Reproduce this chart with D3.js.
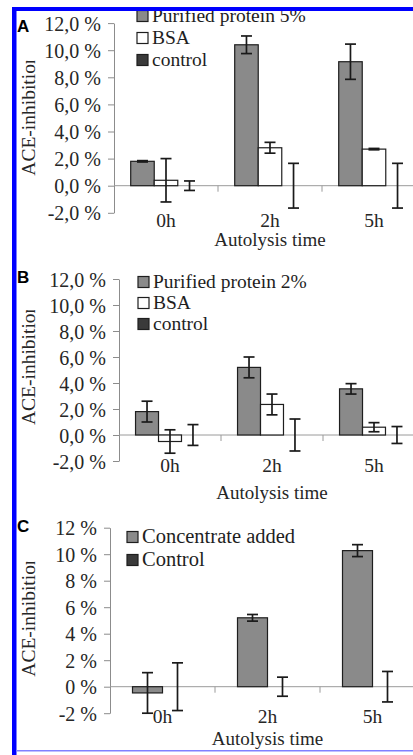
<!DOCTYPE html>
<html>
<head>
<meta charset="utf-8">
<script src="https://cdn.jsdelivr.net/npm/d3@7"></script>
<style>
  body { margin: 0; background: #fff; }
  svg { display: block; }
</style>
</head>
<body>
<div id="chart"></div>
<script>
// Data (ACE-inhibition in %)
const categories = ["0h", "2h", "5h"];

const seriesA = ["Purified protein 5%", "BSA", "control"];
const valuesA = [[1.8, 10.4, 9.15], [0.4, 2.8, 2.7], [0, 0, 0]];
const errorsA = [[0.05, 0.65, 1.3], [1.6, 0.4, 0.05], [0.35, 1.65, 1.65]];

const seriesB = ["Purified protein 2%", "BSA", "control"];
const valuesB = [[1.8, 5.2, 3.55], [-0.5, 2.35, 0.6], [0, 0, 0]];
const errorsB = [[0.8, 0.8, 0.4], [0.9, 0.8, 0.35], [0.8, 1.23, 0.65]];

const seriesC = ["Concentrate added", "Control"];
const valuesC = [[-0.47, 5.2, 10.27], [0, 0, 0]];
const errorsC = [[1.53, 0.25, 0.45], [1.8, 0.72, 1.15]];

const tickValues = [-2, 0, 2, 4, 6, 8, 10, 12];
const tickLabelsAB = ["-2,0 %", "0,0 %", "2,0 %", "4,0 %", "6,0 %", "8,0 %", "10,0 %", "12,0 %"];
const tickLabelsC = ["-2 %", "0 %", "2 %", "4 %", "6 %", "8 %", "10 %", "12 %"];

const fills = ["#8a8a8a", "#ffffff", "#3a3a3a"];
const fillsC = ["#8a8a8a", "#3a3a3a"];

const W = 413, H = 755;
const serif = "'Liberation Serif', 'Times New Roman', serif";

const svg = d3.select("#chart").append("svg")
    .attr("width", W)
    .attr("height", H);

// layout of the three panels
const panels = [
    { letter: "A", series: seriesA, values: valuesA, errors: errorsA, fills: fills, ticks: tickLabelsAB,
      axisX: 114, yBottom: 212.8, yTop: 23.1, band: 104, pad: 0.71, letterY: 32,
      catY: 227, titleY: 246, legX: 137, legY: 16, legStep: 22, legFont: 19.5 },
    { letter: "B", series: seriesB, values: valuesB, errors: errorsB, fills: fills, ticks: tickLabelsAB,
      axisX: 119, yBottom: 461, yTop: 279, band: 102, pad: 0.72, letterY: 283,
      catY: 472, titleY: 499, legX: 138, legY: 282, legStep: 21, legFont: 19.5 },
    { letter: "C", series: seriesC, values: valuesC, errors: errorsC, fills: fillsC, ticks: tickLabelsC,
      axisX: 110, yBottom: 713.2, yTop: 527.7, band: 105, pad: 0.75, letterY: 532,
      catY: 723, titleY: 745, legX: 127, legY: 537, legStep: 23, legFont: 20.5 }
];

panels.forEach((p, pi) => {
    const g = svg.append("g");

    const y = d3.scaleLinear().domain([-2, 12]).range([p.yBottom, p.yTop]);
    const x0 = d3.scaleBand()
        .domain(categories)
        .range([p.axisX, p.axisX + p.band * categories.length]);
    const x1 = d3.scaleBand()
        .domain(p.series)
        .range([0, x0.bandwidth()])
        .paddingInner(0)
        .paddingOuter(p.pad);

    // y axis
    const yAxis = g.append("g")
        .attr("transform", `translate(${p.axisX},0)`)
        .call(d3.axisLeft(y)
            .tickValues(tickValues)
            .tickFormat((d, i) => p.ticks[i])
            .tickSize(6)
            .tickSizeOuter(0)
            .tickPadding(7));
    yAxis.attr("font-family", serif).attr("font-size", 20);
    yAxis.select(".domain").attr("stroke", "#8c8c8c");
    yAxis.selectAll(".tick line").attr("stroke", "#8c8c8c");
    yAxis.selectAll(".tick text").attr("fill", "#262626").attr("dy", "0.35em");

    // zero line and category separators
    g.append("line")
        .attr("x1", p.axisX).attr("x2", W)
        .attr("y1", y(0)).attr("y2", y(0))
        .attr("stroke", "#9a9a9a").attr("stroke-width", 1);
    g.selectAll(".sep")
        .data(categories.slice(1))
        .enter().append("line")
        .attr("x1", d => x0(d)).attr("x2", d => x0(d))
        .attr("y1", y(0)).attr("y2", y(0) + 6)
        .attr("stroke", "#9a9a9a");

    // category labels
    g.selectAll(".cat")
        .data(categories)
        .enter().append("text")
        .attr("x", d => x0(d) + x0.bandwidth() / 2)
        .attr("y", p.catY)
        .attr("text-anchor", "middle")
        .attr("font-family", serif).attr("font-size", 19.5)
        .attr("fill", "#262626")
        .text(d => d);

    g.append("text")
        .attr("x", p.axisX + p.band * 1.5)
        .attr("y", p.titleY)
        .attr("text-anchor", "middle")
        .attr("font-family", serif).attr("font-size", 19)
        .attr("fill", "#262626")
        .text("Autolysis time");

    // bars
    const flat = [];
    p.series.forEach((s, si) => {
        categories.forEach((c, ci) => {
            flat.push({ s: s, si: si, c: c, v: p.values[si][ci], e: p.errors[si][ci] });
        });
    });

    g.selectAll(".bar")
        .data(flat.filter(d => d.v !== 0))
        .enter().append("rect")
        .attr("x", d => x0(d.c) + x1(d.s))
        .attr("y", d => y(Math.max(0, d.v)))
        .attr("width", x1.bandwidth())
        .attr("height", d => Math.abs(y(d.v) - y(0)))
        .attr("fill", d => p.fills[d.si])
        .attr("stroke", "#1e1e1e")
        .attr("stroke-width", 1.2);

    // error bars
    const cap = 5.5;
    const eb = g.selectAll(".err")
        .data(flat)
        .enter().append("g")
        .attr("stroke", "#1a1a1a")
        .attr("stroke-width", 1.7);
    const cx = d => x0(d.c) + x1(d.s) + x1.bandwidth() / 2;
    eb.append("line")
        .attr("x1", cx).attr("x2", cx)
        .attr("y1", d => y(d.v + d.e)).attr("y2", d => y(d.v - d.e));
    eb.append("line")
        .attr("x1", d => cx(d) - cap).attr("x2", d => cx(d) + cap)
        .attr("y1", d => y(d.v + d.e)).attr("y2", d => y(d.v + d.e));
    eb.append("line")
        .attr("x1", d => cx(d) - cap).attr("x2", d => cx(d) + cap)
        .attr("y1", d => y(d.v - d.e)).attr("y2", d => y(d.v - d.e));

    // legend
    const leg = g.selectAll(".leg")
        .data(p.series)
        .enter().append("g")
        .attr("transform", (d, i) => `translate(${p.legX},${p.legY + i * p.legStep})`);
    leg.append("rect")
        .attr("x", 0).attr("y", -5.5)
        .attr("width", 11).attr("height", 11)
        .attr("fill", (d, i) => p.fills[i])
        .attr("stroke", "#1e1e1e").attr("stroke-width", 1.2);
    leg.append("text")
        .attr("x", 15).attr("y", 6)
        .attr("font-family", serif).attr("font-size", p.legFont)
        .attr("fill", "#1e1e1e")
        .text(d => d);

    // y label, clipped as in the figure
    const zy = y(0);
    svg.append("clipPath").attr("id", "clipY" + pi)
        .append("rect")
        .attr("x", 14).attr("y", zy - 125)
        .attr("width", 30).attr("height", 120);
    g.append("g")
        .attr("clip-path", `url(#clipY${pi})`)
        .append("text")
        .attr("transform", `translate(35,${zy - 10}) rotate(-90)`)
        .attr("font-family", serif).attr("font-size", 19.5)
        .attr("fill", "#262626")
        .text("ACE-inhibition");

    // panel letter
    g.append("text")
        .attr("x", 17).attr("y", p.letterY)
        .attr("font-family", "'Liberation Sans', Arial, sans-serif")
        .attr("font-weight", "bold").attr("font-size", 17)
        .attr("fill", "#000")
        .text(p.letter);
});

// blue frame of the figure
svg.append("rect").attr("x", 12).attr("y", 7).attr("width", 4.5).attr("height", H - 7).attr("fill", "#0000ff");
svg.append("rect").attr("x", 12).attr("y", 7).attr("width", W - 12).attr("height", 4).attr("fill", "#0000ff");
svg.append("rect").attr("x", 16).attr("y", 750).attr("width", W - 16).attr("height", 1.5).attr("fill", "#8080ff");
</script>
</body>
</html>
